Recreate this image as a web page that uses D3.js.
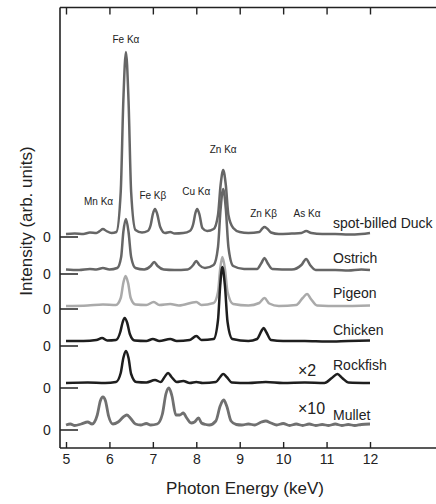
<!DOCTYPE html>
<html>
<head>
<meta charset="utf-8">
<script src="https://cdn.jsdelivr.net/npm/d3@7"></script>
<style>
  body { margin: 0; background: #fff; }
  text { font-family: "Liberation Sans", Arial, sans-serif; fill: #222; }
</style>
</head>
<body>
<div id="chart"></div>
<script>
// Data (energy keV, intensity in arb. units above each trace's zero)
var xTicks = [5, 6, 7, 8, 9, 10, 11, 12];

var seriesNames = ["spot-billed Duck", "Ostrich", "Pigeon", "Chicken", "Rockfish", "Mullet"];
var seriesZero = [21.1, 17.4, 13.9, 10.2, 6.0, 1.8];
var seriesScaleText = ["", "", "", "", "×2", "×10"];

var duck = [[5.0,0.3],[5.2,0.35],[5.4,0.3],[5.55,0.45],[5.7,0.4],
  [5.78,0.6],[5.85,0.8],[5.93,0.6],[6.05,0.4],
  [6.16,0.5],[6.26,4.5],[6.32,13.6],[6.38,18.5],[6.44,13.6],[6.5,4.5],[6.6,0.7],
  [6.75,0.45],[6.88,0.6],
  [6.95,1.2],[7.0,2.3],[7.05,2.8],[7.1,2.3],[7.17,1.0],[7.28,0.4],
  [7.4,0.5],[7.5,0.35],[7.7,0.4],[7.85,0.6],
  [7.93,1.3],[7.98,2.4],[8.02,2.8],[8.07,2.3],[8.14,0.9],[8.25,0.6],
  [8.4,0.8],[8.5,2.2],[8.56,5.2],[8.62,6.7],[8.68,5.2],[8.74,2.2],[8.85,0.9],[9.0,0.5],[9.2,0.4],
  [9.45,0.5],[9.52,0.85],[9.57,1.0],[9.63,0.85],[9.72,0.45],
  [9.9,0.3],[10.2,0.35],
  [10.42,0.4],[10.53,0.6],[10.65,0.4],
  [10.9,0.3],[11.2,0.3],[11.5,0.25],[11.8,0.3],[12.0,0.4]];

var ostrich = [[5.0,0.45],[5.3,0.4],[5.55,0.5],[5.7,0.45],[5.85,0.6],[6.0,0.45],
  [6.18,0.6],[6.27,1.7],[6.32,4.2],[6.38,5.5],[6.44,4.2],[6.5,1.7],[6.6,0.6],
  [6.8,0.45],[6.95,0.8],[7.03,1.2],[7.11,0.8],[7.25,0.45],[7.5,0.4],[7.8,0.45],
  [7.93,0.9],[8.0,1.3],[8.07,0.9],[8.2,0.6],
  [8.4,0.9],[8.5,2.7],[8.56,6.5],[8.62,8.5],[8.68,6.5],[8.74,2.7],[8.85,0.8],[9.1,0.5],[9.4,0.5],
  [9.5,1.1],[9.57,1.6],[9.64,1.1],[9.75,0.5],[10.2,0.45],
  [10.42,0.9],[10.53,1.5],[10.62,0.9],[10.75,0.4],[11.2,0.4],[11.5,0.35],[11.8,0.45],[12.0,0.4]];

var pigeon = [[5.0,0.3],[5.5,0.35],[5.85,0.45],[6.15,0.4],
  [6.26,1.1],[6.32,2.6],[6.37,3.3],[6.43,2.6],[6.49,1.1],[6.6,0.45],
  [6.85,0.4],[7.02,0.7],[7.15,0.4],[7.4,0.5],[7.6,0.35],[8.0,0.7],[8.12,0.4],
  [8.4,0.6],[8.5,1.7],[8.55,4.0],[8.6,5.2],[8.66,4.0],[8.72,1.7],[8.85,0.5],[9.2,0.35],
  [9.45,0.6],[9.57,1.1],[9.68,0.55],[9.9,0.3],
  [10.3,0.4],[10.45,1.1],[10.55,1.5],[10.64,1.0],[10.78,0.35],[11.3,0.3],[12.0,0.35]];

var chicken = [[5.0,0.5],[5.4,0.5],[5.7,0.6],[5.83,0.8],[5.95,0.55],
  [6.15,0.6],[6.25,1.4],[6.3,2.3],[6.35,2.8],[6.41,2.3],[6.47,1.2],[6.58,0.55],
  [6.85,0.5],[7.0,0.7],[7.15,0.5],[7.4,0.7],[7.55,0.5],[7.85,0.6],[8.0,1.0],[8.12,0.6],
  [8.4,0.7],[8.5,2.6],[8.55,6.0],[8.6,7.9],[8.66,6.0],[8.72,2.4],[8.83,0.7],[9.2,0.5],
  [9.4,0.7],[9.5,1.5],[9.55,1.8],[9.61,1.4],[9.72,0.6],
  [10.0,0.5],[10.5,0.5],[11.0,0.45],[11.5,0.5],[12.0,0.55]];

var rockfish = [[5.0,0.5],[5.5,0.55],[5.9,0.5],
  [6.15,0.6],[6.26,1.5],[6.32,3.0],[6.38,3.7],[6.44,3.0],[6.5,1.4],[6.62,0.6],
  [6.85,0.55],[7.05,0.8],[7.18,0.6],[7.27,1.1],[7.35,1.5],[7.43,1.1],[7.55,0.6],
  [7.7,0.7],[7.85,0.5],[8.0,0.6],[8.15,0.5],
  [8.45,0.6],[8.55,1.1],[8.62,1.4],[8.7,1.1],[8.82,0.55],
  [9.2,0.5],[9.6,0.6],[10.0,0.5],[10.5,0.55],
  [10.95,0.5],[11.12,1.0],[11.25,1.4],[11.36,1.0],[11.5,0.55],[12.0,0.5]];

var mullet = [[5.0,0.5],[5.1,0.6],[5.2,0.45],[5.35,0.6],[5.5,0.8],[5.6,0.6],
  [5.72,1.5],[5.79,2.9],[5.85,3.3],[5.91,2.9],[5.98,1.4],[6.08,0.6],
  [6.2,0.8],[6.32,1.3],[6.4,1.5],[6.48,1.2],[6.6,0.6],[6.72,0.5],[6.85,0.65],[6.95,0.5],[7.1,0.6],
  [7.22,1.6],[7.3,3.6],[7.37,4.2],[7.44,3.4],[7.53,1.5],[7.62,1.5],[7.7,1.7],[7.78,1.2],
  [7.88,0.7],[7.96,0.8],[8.05,1.2],[8.12,0.7],[8.22,0.55],[8.3,0.5],
  [8.45,0.9],[8.55,2.4],[8.63,3.0],[8.7,2.4],[8.8,0.9],[8.92,0.55],
  [9.05,0.5],[9.2,0.6],[9.35,0.5],[9.5,0.8],[9.6,0.9],[9.72,0.7],[9.85,0.5],
  [10.0,0.65],[10.15,0.45],[10.3,0.6],[10.45,0.45],[10.6,0.6],[10.75,0.45],[10.9,0.55],
  [11.05,0.45],[11.2,0.6],[11.35,0.45],[11.5,0.55],[11.65,0.45],[11.8,0.55],[12.0,0.6]];

var seriesData = [duck, ostrich, pigeon, chicken, rockfish, mullet];

// peak labels: name, energy, height above the duck zero
var peakNames = ["Mn Kα", "Fe Kα", "Fe Kβ", "Cu Kα", "Zn Kα", "Zn Kβ", "As Kα"];
var peakEnergy = [5.75, 6.38, 7.0, 8.0, 8.62, 9.55, 10.55];
var peakLabelY = [3.2, 19.4, 3.8, 4.2, 8.4, 2.0, 2.0];

// Layout
var svgWidth = 436, svgHeight = 504;
var frameLeft = 60, frameTop = 7.5, frameBottom = 448;

var svg = d3.select("#chart").append("svg")
  .attr("width", svgWidth)
  .attr("height", svgHeight);

var xScale = d3.scaleLinear().domain([5, 12]).range([66, 370]);
var yScale = d3.scaleLinear().domain([0, 44.05]).range([frameBottom, frameTop]);

var colors = ["#666", "#666", "#aaa", "#1e1e1e", "#1e1e1e", "#707070"];
var drawOrder = [2, 3, 1, 0, 4, 5];

// frame
svg.append("line").attr("x1", frameLeft).attr("x2", frameLeft)
  .attr("y1", frameTop).attr("y2", frameBottom)
  .attr("stroke", "#222").attr("stroke-width", 1.6);
svg.append("line").attr("x1", frameLeft).attr("x2", svgWidth)
  .attr("y1", frameTop).attr("y2", frameTop)
  .attr("stroke", "#222").attr("stroke-width", 1.6);
svg.append("line").attr("x1", frameLeft).attr("x2", svgWidth)
  .attr("y1", frameBottom).attr("y2", frameBottom)
  .attr("stroke", "#222").attr("stroke-width", 1.6);

// axes
var bottomAxis = d3.axisBottom(xScale).tickValues(xTicks)
  .tickFormat(d3.format("d")).tickSize(-6).tickPadding(6);
var xAxis = svg.append("g")
  .attr("transform", `translate(0, ${frameBottom})`)
  .call(bottomAxis);
xAxis.select(".domain").remove();
xAxis.selectAll("line").attr("stroke", "#222").attr("stroke-width", 1.4);
xAxis.selectAll("text").attr("font-size", 14).attr("fill", "#222")
  .style("font-family", "Liberation Sans, Arial, sans-serif");

var topAxis = d3.axisTop(xScale).tickValues(xTicks).tickSize(-7).tickFormat("");
var xAxisTop = svg.append("g")
  .attr("transform", `translate(0, ${frameTop})`)
  .call(topAxis);
xAxisTop.select(".domain").remove();
xAxisTop.selectAll("line").attr("stroke", "#222").attr("stroke-width", 1.4);

// zero markers
seriesZero.forEach(function(z) {
  var y = yScale(z);
  svg.append("line").attr("x1", frameLeft).attr("x2", 78)
    .attr("y1", y).attr("y2", y)
    .attr("stroke", "#222").attr("stroke-width", 1.5);
  svg.append("text").attr("x", 47).attr("y", y)
    .attr("dy", "0.36em").attr("text-anchor", "middle")
    .attr("font-size", 14).text("0");
});

// traces
var line = d3.line()
  .x(d => xScale(d[0]))
  .y(d => d[1])
  .curve(d3.curveMonotoneX);

drawOrder.forEach(function(i) {
  var pts = seriesData[i].map(d => [d[0], yScale(seriesZero[i] + d[1])]);
  svg.append("path")
    .attr("d", line(pts))
    .attr("fill", "none")
    .attr("stroke", colors[i])
    .attr("stroke-width", i === 5 ? 2.8 : 2.5)
    .attr("stroke-linejoin", "round");
});

// series names
var nameY = [223, 258, 293, 330, 365, 415];
seriesNames.forEach(function(n, i) {
  svg.append("text").attr("x", 333).attr("y", nameY[i])
    .attr("dy", "0.36em").attr("font-size", 14).text(n);
});
var scaleY = [0, 0, 0, 0, 370, 408];
seriesScaleText.forEach(function(s, i) {
  if (!s) return;
  svg.append("text").attr("x", 298).attr("y", scaleY[i])
    .attr("dy", "0.36em").attr("font-size", 16).text(s);
});

// peak labels
peakNames.forEach(function(p, i) {
  svg.append("text")
    .attr("x", xScale(peakEnergy[i]))
    .attr("y", yScale(seriesZero[0] + peakLabelY[i]))
    .attr("text-anchor", "middle")
    .attr("font-size", 10)
    .text(p);
});

// axis titles
svg.append("text")
  .attr("x", 245).attr("y", 494)
  .attr("text-anchor", "middle")
  .attr("font-size", 17)
  .text("Photon Energy (keV)");

svg.append("text")
  .attr("transform", "translate(32, 221) rotate(-90)")
  .attr("text-anchor", "middle")
  .attr("font-size", 17)
  .text("Intensity (arb. units)");
</script>
</body>
</html>
